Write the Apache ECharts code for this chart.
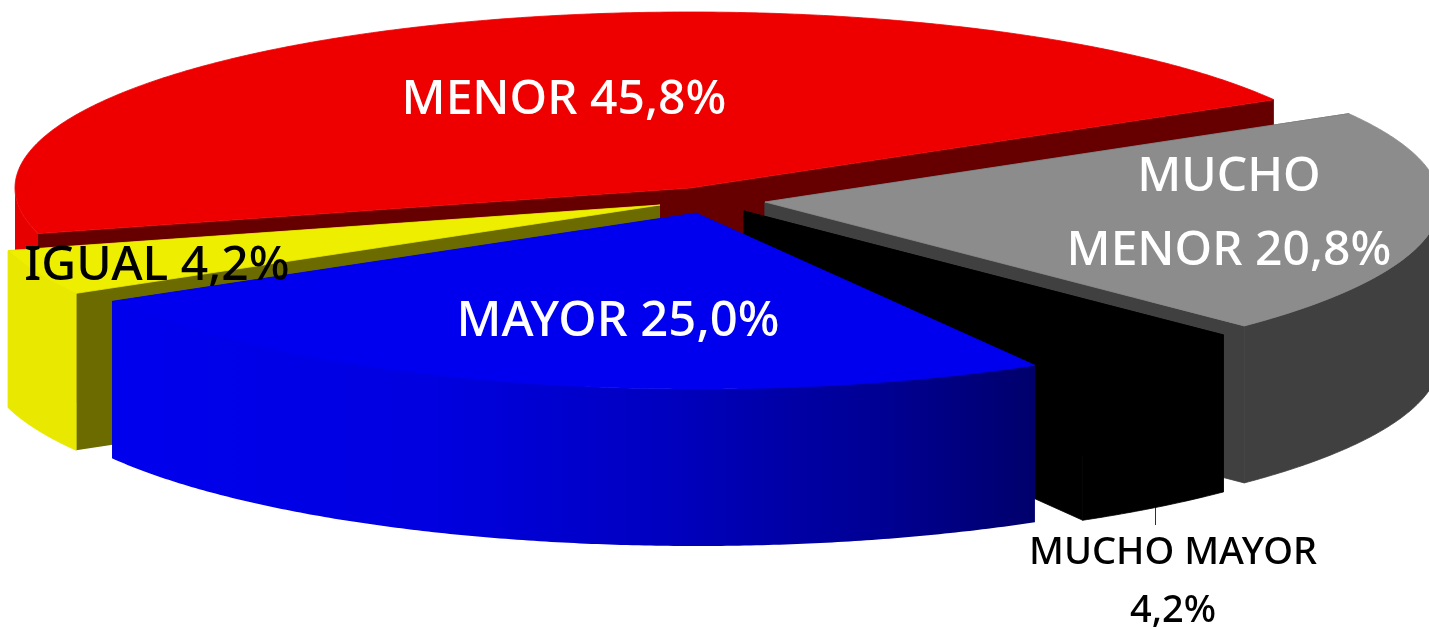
<!DOCTYPE html>
<html>
<head>
<meta charset="utf-8">
<script src="https://cdn.jsdelivr.net/npm/echarts@6/dist/echarts.min.js"></script>
<style>html,body{margin:0;padding:0;background:#fff}#c{width:1429px;height:627px}</style>
</head>
<body>
<div id="c"></div>
<script>
// Data, in the order the slices sit around the pie
var categories = ['MENOR', 'MUCHO\nMENOR', 'MUCHO MAYOR\n', 'MAYOR', 'IGUAL'];
var values = [45.8, 20.8, 4.2, 25.0, 4.2];

// Appearance and layout (not data)
var topColors = ['#ee0000', '#8c8c8c', '#000000', '#0000ee', '#eeee00'];
var cutColors = ['#660000', '#404040', '#000000', '#00007a', '#6b6b00'];
var labelColors = ['#ffffff', '#ffffff', '#000000', '#ffffff', '#000000'];
var labelFontSizes = [48, 48, 38, 49, 48];
var labelLineHeights = [74, 74, 58, 74, 74];
var labelCenters = [[564, 100], [1229, 214], [1173, 582], [618, 322], [157, 266]];
var sliceApex = [[690, 188], [765, 202], [744, 211], [696, 213], [660, 205]];
var paintOrder = [0, 1, 2, 4, 3];
var RX = 675, RY = 176, DEPTH = 157, START_DEG = 165;

var total = values.reduce(function (a, b) { return a + b; }, 0);
var starts = [];
values.reduce(function (acc, v, i) { starts[i] = acc; return acc + v / total * 360; }, START_DEG);

function rimPoint(c, deg, dy) {
  var t = deg * Math.PI / 180;
  return [c[0] + RX * Math.cos(t), c[1] + RY * Math.sin(t) + (dy || 0)];
}
function arc(c, a0, a1, dy) {
  var pts = [], n = Math.max(2, Math.ceil(Math.abs(a1 - a0) * 2));
  for (var k = 0; k <= n; k++) pts.push(rimPoint(c, a0 + (a1 - a0) * k / n, dy));
  return pts;
}
function rimFill(i) {
  if (i === 3) {
    return new echarts.graphic.LinearGradient(0, 0, 1, 0, [
      { offset: 0, color: '#0000ee' }, { offset: 0.35, color: '#0000e0' },
      { offset: 0.6, color: '#0000c0' }, { offset: 0.85, color: '#000090' }, { offset: 1, color: '#00006c' }
    ]);
  }
  if (i === 0) return '#e60000';
  if (i === 4) return '#e8e800';
  if (i === 1) return '#404040';
  return '#000000';
}
function poly(points, fill, z, seam) {
  return { type: 'polygon', shape: { points: points },
    style: { fill: fill, stroke: seam ? fill : null, lineWidth: seam ? 0.8 : 0 }, z2: z, silent: true };
}
function labelText(i) {
  var v = values[i].toFixed(1).replace('.', ',') + '%';
  var n = categories[i];
  return n.charAt(n.length - 1) === '\n' ? n + v : n + ' ' + v;
}

function renderItem(params, api) {
  var i = api.value(0);
  var rank = paintOrder.indexOf(i);
  var c = sliceApex[i];
  var a0 = starts[i], a1 = a0 + values[i] / total * 360;
  var kids = [];
  var base = rank * 10 + 1;
  var seamed = i === 1 || i === 2;
  // cut faces
  [a0, a1].forEach(function (a) {
    var p = rimPoint(c, a);
    kids.push(poly([c, p, [p[0], p[1] + DEPTH], [c[0], c[1] + DEPTH]], cutColors[i], base, seamed));
  });
  // outer wall, only where it faces the viewer
  for (var shift = 0; shift <= 360; shift += 360) {
    var f0 = Math.max(a0, shift), f1 = Math.min(a1, shift + 180);
    if (f1 > f0) {
      var up = arc(c, f0, f1, 0), down = arc(c, f1, f0, DEPTH);
      kids.push(poly(up.concat(down), rimFill(i), base + 1, i !== 3 && i !== 0));
    }
  }
  // top face
  kids.push(poly([c].concat(arc(c, a0, a1, 0)), topColors[i], base + 2, true));
  // label
  kids.push({
    type: 'text', z2: 200, silent: true,
    style: {
      x: labelCenters[i][0], y: labelCenters[i][1], text: labelText(i),
      fill: labelColors[i], align: 'center', verticalAlign: 'middle',
      font: '500 ' + labelFontSizes[i] + 'px "Noto Sans"', lineHeight: labelLineHeights[i]
    }
  });
  if (i === 2) {
    kids.push({ type: 'line', z2: base - 1, silent: true,
      shape: { x1: 1155.5, y1: 500, x2: 1155.5, y2: 525 }, style: { stroke: '#303030', lineWidth: 1 } });
  }
  return { type: 'group', children: kids };
}

var chart = echarts.init(document.getElementById('c'), null, { renderer: 'canvas' });
chart.setOption({
  animation: false,
  backgroundColor: '#ffffff',
  series: [{
    type: 'custom',
    coordinateSystem: 'none',
    renderItem: renderItem,
    data: paintOrder.map(function (i) { return [i]; })
  }]
});
</script>
</body>
</html>
